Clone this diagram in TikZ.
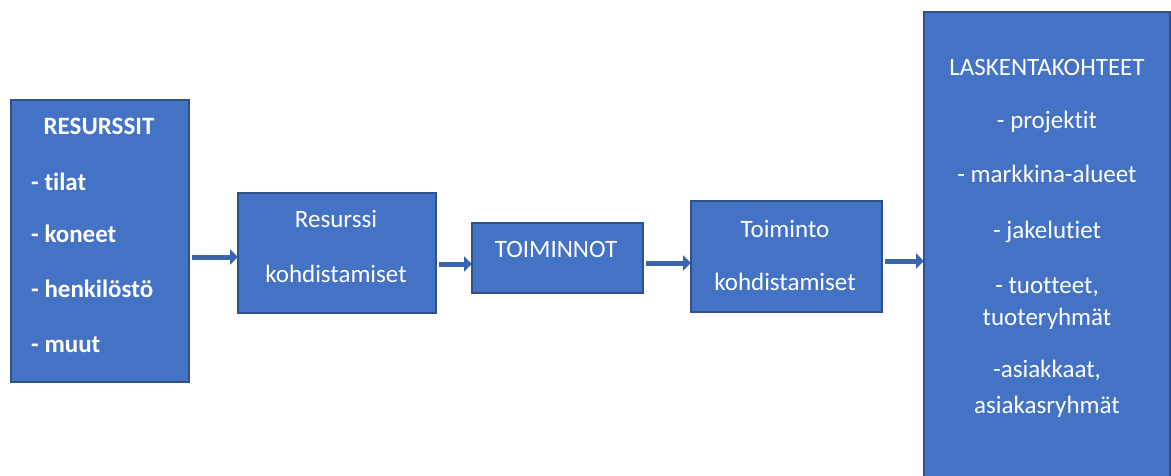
\documentclass[tikz,border=0pt]{standalone}
\usepackage{fontspec}
\setmainfont{Carlito}[Ligatures={NoCommon}]
\usetikzlibrary{arrows.meta}
\definecolor{boxfill}{HTML}{4472C4}
\definecolor{boxline}{HTML}{2F528F}
\definecolor{arrowcol}{HTML}{3A64AE}
\begin{document}
\begin{tikzpicture}[x=1pt,y=-1pt,
  bluebox/.style={draw=boxline,fill=boxfill,line width=2pt,inner sep=0pt,anchor=north west},
  txt/.style={text=white,inner sep=0pt,anchor=base,font=\fontsize{25}{30}\selectfont},
  ltxt/.style={txt,anchor=base west},
  flow/.style={draw=arrowcol,line width=5pt,-{Triangle[length=8pt,width=15pt]},shorten >=-1pt}]
\useasboundingbox (0,0) rectangle (1171,476);
% boxes
\node[bluebox,minimum width=178pt,minimum height=282pt] (res) at (10,99) {};
\node[bluebox,minimum width=198pt,minimum height=120pt] (rk) at (237,192) {};
\node[bluebox,minimum width=171pt,minimum height=70pt] (toi) at (471,222) {};
\node[bluebox,minimum width=191pt,minimum height=111pt] (tk) at (690,200) {};
\begin{scope}
\clip (0,0) rectangle (1171,476);
\node[bluebox,minimum width=246pt,minimum height=480pt] (las) at (923,11) {};
\end{scope}
% texts
\node[txt,font=\fontsize{25}{30}\selectfont\bfseries] (t1) at (99,135) {RESURSSIT};
\node[ltxt,font=\fontsize{25}{30}\selectfont\bfseries] (t2) at (31,190) {- tilat};
\node[ltxt,font=\fontsize{25}{30}\selectfont\bfseries] (t3) at (31,242) {- koneet};
\node[ltxt,font=\fontsize{25}{30}\selectfont\bfseries] (t4) at (31,297) {- henkilöstö};
\node[ltxt,font=\fontsize{25}{30}\selectfont\bfseries] (t5) at (31,352) {- muut};
\node[txt] (r1) at (336,228) {Resurssi};
\node[txt] (r2) at (336,282) {kohdistamiset};
\node[txt] (o1) at (556,258) {TOIMINNOT};
\node[txt] (k1) at (785,237) {Toiminto};
\node[txt] (k2) at (785,290) {kohdistamiset};
\node[txt] (l1) at (1047,76) {LASKENTAKOHTEET};
\node[txt] (l2) at (1047,129) {- projektit};
\node[txt] (l3) at (1047,183) {- markkina-alueet};
\node[txt] (l4) at (1047,238) {- jakelutiet};
\node[txt] (l5) at (1047,293) {- tuotteet,};
\node[txt] (l6) at (1047,325) {tuoteryhmät};
\node[txt] (l7) at (1047,377) {-asiakkaat,};
\node[txt] (l8) at (1047,413) {asiakasryhmät};
% arrows
\draw[flow] ([xshift=2pt]res.east |- 0,257) -- (rk.west |- 0,257);
\draw[flow] ([xshift=2pt]rk.east |- 0,264) -- (toi.west |- 0,264);
\draw[flow] ([xshift=2pt]toi.east |- 0,263) -- (tk.west |- 0,263);
\draw[flow] ([xshift=2pt]tk.east |- 0,261) -- (las.west |- 0,261);
\end{tikzpicture}
\end{document}
